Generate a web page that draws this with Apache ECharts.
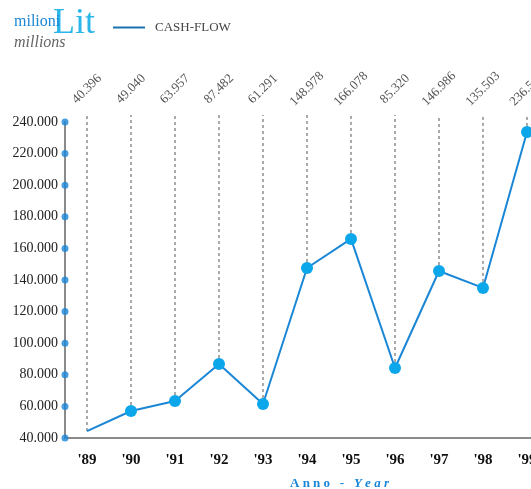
<!DOCTYPE html>
<html>
<head>
<meta charset="utf-8">
<script src="https://cdn.jsdelivr.net/npm/echarts@6/dist/echarts.min.js"></script>
<style>html,body{margin:0;padding:0;background:#fff}#c{width:531px;height:489px}</style>
</head>
<body>
<div id="c"></div>
<script>
var years = ["'89","'90","'91","'92","'93","'94","'95","'96","'97","'98","'99"];
var cashFlow = [44400, 57100, 63400, 86800, 61500, 147600, 166000, 84300, 145700, 135000, 233700];
var valueLabels = ['40.396','49.040','63.957','87.482','61.291','148.978','166.078','85.320','146.986','135.503','236.515'];
var yTicks = [40000, 60000, 80000, 100000, 120000, 140000, 160000, 180000, 200000, 220000, 240000];

var serif = 'Liberation Serif';
var guideTop = 244500;

function fmt(v){ return String(v).replace(/\B(?=(\d{3})+(?!\d))/g, '.'); }

var chart = echarts.init(document.getElementById('c'), null, {renderer:'canvas'});
chart.setOption({
  animation: false,
  backgroundColor: '#fff',
  title: [
    {text: 'Lit', left: 48, top: 1, textStyle: {fontFamily: serif, fontSize: 36, fontWeight: 'normal', color: '#2bb6ea'}},
    {text: 'milioni', left: 9, top: 9, textStyle: {fontFamily: serif, fontSize: 16, fontWeight: 'normal', color: '#1a86d6'}},
    {text: 'millions', left: 9, top: 30, textStyle: {fontFamily: serif, fontSize: 16, fontStyle: 'italic', fontWeight: 'normal', color: '#666'}},
    {text: '{a|A n n o   -   }{b|Y e a r}', left: 285, top: 472,
     textStyle: {rich: {
       a: {fontFamily: serif, fontSize: 13, fontWeight: 'bold', color: '#1a86d6'},
       b: {fontFamily: serif, fontSize: 13, fontWeight: 'bold', fontStyle: 'italic', color: '#1a86d6'}
     }}}
  ],
  legend: {
    left: 108, top: 16, itemWidth: 32, itemHeight: 2, itemGap: 10,
    data: [{name: 'CASH-FLOW', icon: 'rect', itemStyle: {color: '#1b70b0'}}],
    textStyle: {fontFamily: serif, fontSize: 13, color: '#444', padding: [0,0,0,5]}
  },
  grid: {left: 65, top: 122, bottom: 51, width: 484, containLabel: false, outerBoundsMode: 'none'},
  xAxis: [
    {type: 'category', data: years, boundaryGap: true, position: 'bottom',
     axisLine: {lineStyle: {color: '#8a8a8a', width: 2}},
     axisTick: {show: false},
     axisLabel: {margin: 15, fontFamily: serif, fontSize: 15, fontWeight: 'bold', color: '#111'}},
    {type: 'category', data: valueLabels, boundaryGap: true, position: 'top',
     axisLine: {show: false}, axisTick: {show: false},
     axisLabel: {rotate: -45, align: 'center', verticalAlign: 'middle', margin: 33,
       fontFamily: serif, fontSize: 13, color: '#555'}},
    {type: 'value', min: 0, max: 1, show: false}
  ],
  yAxis: {
    type: 'value', min: 40000, max: 240000, interval: 20000,
    splitLine: {show: false},
    axisLine: {show: true, lineStyle: {color: '#8a8a8a', width: 2}},
    axisTick: {show: false},
    axisLabel: {margin: 7, formatter: fmt, fontFamily: serif, fontSize: 14, color: '#222'}
  },
  series: [
    {
      type: 'custom', xAxisIndex: 0, yAxisIndex: 0, clip: false, silent: true, z: 1,
      data: cashFlow.map(function(v, i){ return [i, v]; }),
      renderItem: function(params, api){
        var p = api.coord([api.value(0), api.value(1)]);
        var t = api.coord([api.value(0), guideTop]);
        return {type: 'line', shape: {x1: p[0], y1: p[1], x2: t[0], y2: t[1]},
          style: {stroke: '#555', lineWidth: 1, lineDash: [3, 3]}};
      }
    },
    {
      name: 'CASH-FLOW', type: 'line', xAxisIndex: 0, yAxisIndex: 0, z: 3,
      data: cashFlow.map(function(v, i){ return i === 0 ? {value: v, symbol: 'none'} : v; }),
      symbol: 'circle', symbolSize: 12, showAllSymbol: true,
      lineStyle: {color: '#1a86d6', width: 2},
      itemStyle: {color: '#0ca6ea'},
      clip: false
    },
    {
      type: 'scatter', xAxisIndex: 2, yAxisIndex: 0, z: 5, silent: true, clip: false,
      data: yTicks.map(function(t){ return [0, t]; }),
      symbolSize: 7, itemStyle: {color: '#1a86d6'}
    }
  ]
});
</script>
</body>
</html>
